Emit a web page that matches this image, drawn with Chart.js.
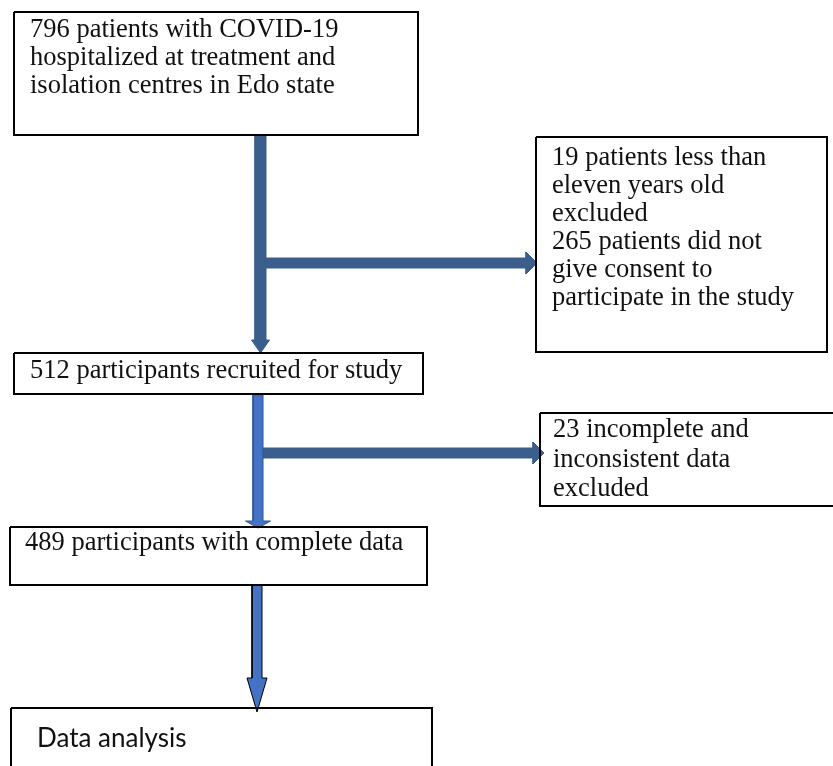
<!DOCTYPE html>
<html>
<head>
<meta charset="utf-8">
<script src="https://cdn.jsdelivr.net/npm/chart.js@4"></script>
<style>
  html, body { margin: 0; padding: 0; background: #fff; }
  canvas { display: block; }
</style>
</head>
<body>
<canvas id="flow" width="833" height="766"></canvas>
<script>
// Kotak-kotak diagram alir (koordinat dalam satuan sumbu, 0..833 x 0..766)
const boxLines = [
    ['796 patients with COVID-19', 'hospitalized at treatment and', 'isolation centres in Edo state'],
    ['19 patients less than', 'eleven years old', 'excluded', '265 patients did not', 'give consent to', 'participate in the study'],
    ['512 participants recruited for study'],
    ['23 incomplete and', 'inconsistent data', 'excluded'],
    ['489 participants with complete data'],
    ['Data analysis']
];
const boxLeft   = [14, 536, 14, 540, 10, 11];
const boxTop    = [12, 137, 353, 413, 527, 708];
const boxRight  = [418, 827, 423, 836, 427, 432];
const boxBottom = [135, 352, 394, 506, 585, 772];

// Posisi teks tiap kotak (baris pertama, jarak antarbaris)
const textX     = [30, 552, 30, 553, 25, 37];
const textFirst = [37, 165, 378, 437, 550, 747];
const textGap   = [28, 28, 0, 29.5, 0, 0];

// Panah: titik awal, ujung, lebar batang, lebar kepala, panjang kepala
const arrowFrom  = [[260.5, 135], [266, 263], [258, 395], [263, 453], [257, 585]];
const arrowTo    = [[260.5, 353], [537, 263], [258, 528], [544, 453], [257, 712]];
const arrowShaft = [11, 10, 10, 10, 10];
const arrowHead  = [18, 22, 25, 22, 20];
const arrowHeadLen = [13, 11, 7, 11, 34];
const arrowFill  = ['#3b5e8c', '#3b5e8c', '#4472c4', '#3b5e8c', '#4472c4'];
const arrowEdge  = ['#3b5e8c', '#3b5e8c', '#2f5597', '#3b5e8c', '#000000'];

function boxPath(i) {
    return [
        { x: boxLeft[i], y: boxTop[i] },
        { x: boxRight[i], y: boxTop[i] },
        { x: boxRight[i], y: boxBottom[i] },
        { x: boxLeft[i], y: boxBottom[i] },
        { x: boxLeft[i], y: boxTop[i] }
    ];
}

// bentuk panah lurus sebagai poligon
function arrowPath(i) {
    const [x0, y0] = arrowFrom[i];
    const [x1, y1] = arrowTo[i];
    const len = Math.hypot(x1 - x0, y1 - y0);
    const ux = (x1 - x0) / len, uy = (y1 - y0) / len;
    const nx = -uy, ny = ux;
    const s = arrowShaft[i] / 2, h = arrowHead[i] / 2, hl = arrowHeadLen[i];
    const bx = x1 - ux * hl, by = y1 - uy * hl;
    const p = (x, y) => ({ x, y });
    return [
        p(x0 + nx * s, y0 + ny * s),
        p(bx + nx * s, by + ny * s),
        p(bx + nx * h, by + ny * h),
        p(x1, y1),
        p(bx - nx * h, by - ny * h),
        p(bx - nx * s, by - ny * s),
        p(x0 - nx * s, y0 - ny * s),
        p(x0 + nx * s, y0 + ny * s)
    ];
}

const datasets = [];
boxLines.forEach((_, i) => {
    datasets.push({
        data: boxPath(i),
        borderColor: '#000',
        borderWidth: 2,
        borderJoinStyle: 'miter',
        pointRadius: 0,
        fill: false,
        tension: 0,
        clip: false
    });
});
arrowFrom.forEach((_, i) => {
    datasets.push({
        data: arrowPath(i),
        borderColor: arrowEdge[i],
        backgroundColor: arrowFill[i],
        borderWidth: 1,
        borderJoinStyle: 'miter',
        pointRadius: 0,
        fill: 'shape',
        tension: 0,
        clip: false
    });
});

const textPlugin = {
    id: 'boxText',
    afterDatasetsDraw(chart) {
        const { ctx, scales } = chart;
        ctx.save();
        ctx.fillStyle = '#111';
        ctx.textBaseline = 'alphabetic';
        ctx.textAlign = 'left';
        boxLines.forEach((lines, i) => {
            ctx.font = i === 5 ? '26px Lato, "Liberation Sans", sans-serif' : '26.5px "Liberation Serif", serif';
            lines.forEach((t, j) => {
                ctx.fillText(t,
                    scales.x.getPixelForValue(textX[i]),
                    scales.y.getPixelForValue(textFirst[i] + j * textGap[i]));
            });
        });
        ctx.restore();
    }
};

new Chart(document.getElementById('flow').getContext('2d'), {
    type: 'scatter',
    data: { datasets },
    options: {
        responsive: false,
        animation: false,
        showLine: true,
        layout: { padding: 0 },
        plugins: { legend: { display: false }, tooltip: { enabled: false } },
        scales: {
            x: { type: 'linear', min: 0, max: 833, display: false },
            y: { type: 'linear', min: 0, max: 766, reverse: true, display: false }
        }
    },
    plugins: [textPlugin]
});
</script>
</body>
</html>
